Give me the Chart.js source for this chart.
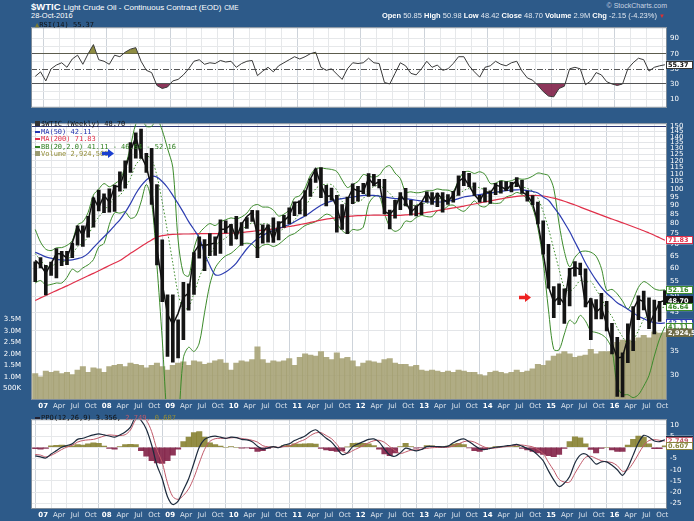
<!DOCTYPE html>
<html><head><meta charset="utf-8">
<script src="https://cdn.jsdelivr.net/npm/chart.js@4.4.1/dist/chart.umd.min.js"></script>
<style>
body{margin:0;background:#2d5a89;width:694px;height:521px;overflow:hidden;position:relative;font-family:"Liberation Sans",Arial,sans-serif;}
canvas{position:absolute;left:0;z-index:1;}
.t{position:absolute;white-space:nowrap;color:#fff;z-index:10;line-height:1;}
.lg{position:absolute;white-space:nowrap;z-index:10;font-family:"DejaVu Sans Mono",monospace;font-size:7px;line-height:7.6px;left:35px;}
.dash{display:inline-block;width:5px;height:2px;vertical-align:middle;margin-right:1px;}
.arrow{position:absolute;z-index:11;clip-path:polygon(0 30%,50% 30%,50% 0,100% 50%,50% 100%,50% 70%,0 70%);}
</style></head><body>
<div class="t" style="left:31px;top:2px;font-size:9.5px;"><b>$WTIC</b> <span style="font-size:8px">Light Crude Oil - Continuous Contract (EOD)</span> <span style="font-size:6.5px">CME</span></div>
<div class="t" style="left:31px;top:12px;font-size:7.5px;">28-Oct-2016</div>
<div class="t" style="right:27px;top:2px;font-size:7px;color:#c9d4e2;">© StockCharts.com</div>
<div class="t" style="right:29px;top:12px;font-size:7.5px;color:#dfe6ef;"><b style="color:#fff">Open</b> 50.85 <b style="color:#fff">High</b> 50.98 <b style="color:#fff">Low</b> 48.42 <b style="color:#fff">Close</b> 48.70 <b style="color:#fff">Volume</b> 2.9M <b style="color:#fff">Chg</b> -2.15 (-4.23%) <span style="color:#e03030;font-size:6px">▼</span></div>

<div class="lg" style="top:22px;color:#111;"><span style="color:#7a7a30">▲</span>RSI(14) 55.37</div>
<div class="lg" style="top:121px;color:#111;">
<div><span style="display:inline-block;width:5px;height:5px;background:#333;margin-right:1px"></span>$WTIC (Weekly) 48.70</div>
<div style="color:#2233b0"><span class="dash" style="background:#2233b0"></span>MA(50) 42.11</div>
<div style="color:#e0304a"><span class="dash" style="background:#e0304a"></span>MA(200) 71.83</div>
<div style="color:#2f8020"><span class="dash" style="background:#2f8020"></span>BB(20,2.0) 41.11 - 46.64 - 52.16</div>
<div style="color:#948e38"><span style="display:inline-block;width:5px;height:5px;background:#9a9a70;margin-right:1px"></span>Volume 2,924,569</div>
</div>
<div class="lg" style="top:415px;color:#111;"><span class="dash" style="background:#223"></span>PPO(12,26,9) 3.356, <span style="color:#c05a6a">2.749,</span> <span style="color:#948e38">0.607</span></div>
<div class="arrow" style="left:102px;top:149px;width:12px;height:9px;background:#1a3fd0;"></div>
<div class="arrow" style="left:519px;top:293px;width:12px;height:9px;background:#ee2222;"></div>

<canvas id="rsi" width="694" height="95" style="top:20px"></canvas>
<canvas id="main" width="694" height="296" style="top:116px"></canvas>
<canvas id="ppo" width="694" height="109" style="top:412px"></canvas>
<script>
// ---- monthly data, Nov 2006 .. Oct 2016 (120 months) ----
const closeP = [63.1,61.1,
58.1,61.8,65.9,65.7,64.0,70.7,78.2,74.0,81.7,94.5,88.7,96.0,
91.8,101.8,101.6,113.5,127.4,140.0,124.1,115.5,100.6,67.8,54.4,44.6,
41.7,44.8,49.7,51.1,66.3,69.9,69.5,70.0,70.6,77.0,77.3,79.4,
72.9,79.7,83.8,86.2,74.0,75.6,79.0,71.9,80.0,81.4,84.1,91.4,
92.2,97.0,106.7,113.9,102.7,95.4,95.7,88.8,79.2,93.2,100.4,98.8,
98.5,107.1,103.0,104.9,86.5,85.0,88.1,96.5,92.2,86.2,88.9,91.8,
97.5,92.1,97.2,93.5,92.0,96.6,105.0,107.7,102.3,96.4,92.7,98.4,
97.5,102.6,101.6,99.7,102.7,105.4,98.2,96.0,91.2,80.5,66.2,53.3,
48.2,49.8,47.6,59.6,60.3,59.5,47.1,49.2,45.1,46.6,41.7,37.0,
33.6,33.8,38.3,45.9,49.1,48.3,41.6,44.7,48.2,48.7];
const highP = [62.5,64.2,
61.1,62.4,68.1,66.9,66.9,70.5,78.8,78.8,83.9,94.5,99.3,97.0,
100.1,102.6,111.8,119.9,135.1,143.7,147.3,126.0,130.0,103.0,72.0,50.5,
50.5,43.0,54.7,54.2,66.3,73.4,72.2,75.0,73.4,82.0,81.5,79.6,
83.9,80.5,83.2,87.1,87.0,79.4,79.3,83.0,81.0,84.4,88.6,92.0,
92.6,99.0,106.9,113.9,114.8,102.4,100.6,96.0,90.5,95.0,103.4,101.8,
103.7,110.5,110.0,106.4,106.4,87.3,92.9,97.8,100.4,93.0,89.9,91.5,
98.2,97.8,97.4,97.8,96.5,98.6,108.9,112.2,110.7,104.1,96.0,100.8,
98.9,103.8,105.2,104.9,104.4,107.7,105.8,98.7,95.9,91.9,81.4,70.0,
53.3,54.2,52.5,59.9,62.6,62.0,59.7,49.3,49.0,51.0,48.4,42.0,
38.4,34.7,41.9,46.8,50.2,51.7,49.5,48.8,48.4,51.9];
const lowP = [55.0,60.1,
50.5,57.2,56.3,61.0,61.4,64.2,69.6,69.0,73.3,78.2,86.8,85.9,
86.1,86.6,98.6,100.5,111.3,122.0,121.9,111.3,90.5,61.3,48.3,33.9,
32.7,33.6,37.8,45.7,50.6,64.0,59.0,65.0,65.1,66.0,75.3,69.5,
72.4,69.5,77.5,81.1,64.2,70.5,71.0,70.8,72.0,78.0,80.0,84.2,
85.1,84.1,95.4,104.4,94.6,89.6,93.0,75.7,77.1,74.9,91.0,92.5,
97.0,95.4,102.1,100.7,85.2,77.3,82.8,87.5,89.7,84.5,84.1,84.7,
91.8,90.5,89.3,86.1,90.5,91.8,96.0,102.2,101.5,95.9,91.8,92.0,
91.2,96.4,97.4,98.9,98.2,101.6,97.2,92.5,90.4,79.8,65.7,52.7,
43.6,47.4,42.0,47.0,57.0,57.5,46.7,37.8,43.2,43.2,40.0,34.5,
26.2,26.1,32.6,35.2,43.0,45.8,40.6,39.2,42.5,47.4];
const volumeM = [1.15,1.0,
1.25,1.2,1.25,1.15,1.2,1.1,1.3,1.45,1.2,1.4,1.35,1.2,
1.45,1.5,1.55,1.45,1.6,1.55,1.5,1.4,1.5,1.6,1.45,1.3,
1.5,1.6,1.65,1.5,1.7,1.65,1.55,1.6,1.7,1.75,1.6,1.3,
1.6,1.7,1.65,1.75,2.3,1.75,1.6,1.7,1.65,1.7,1.8,1.5,
1.85,2.0,1.95,1.9,2.1,1.85,1.75,2.05,1.8,1.85,1.7,1.45,
1.6,1.7,1.65,1.6,1.75,1.8,1.6,1.55,1.55,1.45,1.5,1.3,
1.25,1.3,1.25,1.2,1.25,1.2,1.3,1.25,1.2,1.2,1.1,1.05,
1.2,1.25,1.2,1.15,1.2,1.3,1.2,1.25,1.35,1.55,1.5,1.7,
1.9,2.0,2.1,2.0,1.85,1.9,1.95,2.2,2.0,2.1,2.1,2.1,
2.5,2.6,2.6,2.55,2.7,2.8,2.7,2.95,2.9,2.92];
const ma50 = [66.5,65.5,
64.5,64,63.5,63.3,63.2,63.3,63.8,64.5,66,68.5,71,73.5,
76,79,82,86,91,97,102,106,108.5,108,105,101,
96,91,86,81,77,73,66,61,57.5,57.5,58.5,60,
62,65,68,70.5,72.5,74,75.5,76.5,77.5,78.5,79.5,81,
82.5,84,86,88,90,91.5,92.5,93.5,94,94.5,95,95.5,
96,96,96,95.5,95,94.5,94,94,94,93.5,93,92.5,
92,92,92,92,92.5,93,94,95,95.5,96,96.5,97,
97.5,98,98.5,99,99.3,99.5,99.5,99,98.5,97.5,95,93,
89,85,80.5,76,71,66.5,62,58.5,55.5,53,51,49.5,
48,47,46,45,44,43.3,42.6,42.2,42,42.11];
const ma200 = [48.7,49.5,
50.3,51.1,51.9,52.7,53.5,54.4,55.3,56.2,57.1,58.0,59.0,60.0,
61.0,62.0,63.0,64.5,66.0,67.5,69.0,70.5,72.0,73.3,74.0,74.4,
74.6,74.7,74.8,74.8,74.9,75.0,75.0,75.0,75.0,75.0,75.1,75.2,
75.3,75.5,75.8,76.1,76.4,76.7,77.0,77.3,77.7,78.1,78.5,79.0,
79.5,80.0,80.6,81.2,81.8,82.3,82.7,83.1,83.5,83.8,84.0,84.2,
84.3,84.4,84.5,84.5,84.4,84.3,84.3,84.4,84.6,84.9,85.2,85.6,
86.0,86.5,87.0,87.5,88.0,88.5,89.0,89.6,90.2,90.8,91.4,92.0,
92.6,93.2,93.8,94.4,94.9,95.4,95.7,95.9,96.0,95.9,95.6,95.0,
94.3,93.4,92.4,91.3,90.2,89.0,87.8,86.7,85.6,84.5,83.4,82.4,
81.4,80.4,79.4,78.4,77.4,76.4,75.3,74.2,73.0,71.83];
const bbUpper = [77,71,
67.8,67.2,68.4,68.5,69.5,71.6,79.3,80.9,86,96.2,100,103.6,
101.5,103.4,106.4,115.5,131.6,152,158,150,150,157,146,130,
115,72,58,57,68,75,78,80,79,81,82,83,
82.5,83.5,85.6,89.4,90.5,89,89,87.3,84,85,87.5,94.4,
95.8,100.6,109.3,114,114.5,114,113.5,112,106,101,103,105,
109.8,108.6,108,109.3,114.4,116.3,110.9,107,98.1,98.2,97.6,97.9,
98.9,98.9,100.1,99.4,99.3,98.5,105.9,111.4,112.1,110.6,111.8,109.9,
103.7,103.9,105.6,105,105.5,107,106.5,107,108.7,110.9,110.2,109,
100.3,80,66.8,60.5,64.3,66.6,67,66.5,64.8,59.9,52,52.3,
50.8,48.5,46,49,53,55,54,52.5,52,52.16];
const bbMid = [65.9,63.2,
60.8,60.6,62,62.5,63.1,65.6,68.9,70.5,73.7,79.8,83.4,87,
90.5,94.6,96,100.9,107.2,116.9,121.3,124,121,109,92,76,
62,51,46,46.6,51,56.4,61.3,65.3,69.2,71.4,72.9,74.9,
75.4,77.3,78.6,80.4,79.3,79.9,79.7,77.3,76.1,77.6,79.3,81.8,
85.8,89.2,94.3,100.2,102.5,103.1,102.9,99.3,92.4,90.5,91.5,92.1,
94,99.6,101.6,102.5,100,97.3,93.5,92.2,89.7,89.6,90.4,91.1,
91.3,91.3,93.5,94.4,94.5,94.3,96.9,99,100.7,101.6,100.8,99.5,
97.5,97.5,98.6,100,100.8,102.4,101.5,100.4,98.7,94.3,86.4,77.4,
67.9,59.6,53,51.7,53.1,55.4,54.8,55.1,52.2,49.5,45.9,43.9,
40.8,38.5,36.9,37.7,40.1,43.1,44.6,45.9,46.4,46.64];
const bbLower = [54.5,55.4,
53.8,54,54.5,54.5,56.5,59.6,58.5,60.1,61.3,63.4,68.8,70.4,
79.5,85.8,85.6,86.3,82.8,84,92,103,92,61,38,22,
18,22,33.6,36,35,37,45,54,60,63,65,66,
68,70,70.5,70,68,69.5,70,69,70,72,74,75,
77,79,80,81,83,85,84,80,76.5,75,77,76.7,
78.2,90.6,95.2,95.7,85.6,78.3,76.1,77.4,81.3,81,83.2,84.3,
83.7,83.7,86.9,87,89.7,90.1,87.9,86.6,89.3,92.6,89.8,89.1,
91.3,91.1,91.6,95,96,97.8,96.5,93.8,88.7,77.7,62.6,45.8,
35.5,35.4,39.2,42.9,41.9,44.2,42.6,40,39.6,39.1,38,35.5,
28,26.5,26.5,26,26.5,28,30,34,38,41.11];
const rsi14 = [40,46,
34,50,55,58,52,63,68,56,70,82,62,60,
56,68,66,72,76,78,60,48,45,28,24,26,
34,36,42,50,60,62,56,58,57,61,59,60,
52,57,60,61,41,47,52,46,54,58,62,66,
63,66,70,72,52,48,50,43,36,50,58,57,
58,64,58,57,32,30,44,58,54,44,42,50,
60,52,55,48,50,57,66,66,54,46,39,52,
54,60,56,54,58,60,47,38,35,28,20,14,
13,24,27,50,52,50,29,34,45,42,33,30,
28,30,50,58,64,62,47,52,54,55.37];
const ppoLine = [-3.8,-4.3,
-4.8,-3.0,-1.5,0.0,0.8,1.5,3.5,4.0,4.8,5.5,6.0,5.5,
5.0,4.5,5.5,6.8,9.0,13.5,12.0,8.0,1.0,-8.0,-14.0,-22.0,
-25.5,-24.0,-19.0,-14.0,-7.0,0.0,3.5,4.6,5.0,4.5,4.0,4.5,
4.3,3.5,3.3,2.5,0.5,-0.8,-0.3,0.3,-0.2,1.0,1.5,3.0,
4.0,5.0,6.8,7.8,6.0,4.0,2.3,-0.5,-3.2,-2.5,0.3,1.5,
2.5,3.5,3.7,2.3,-0.8,-3.5,-4.0,-2.5,-0.4,-1.0,-1.6,-1.0,
0.3,0.4,0.3,0.2,0.5,2.0,3.2,3.7,2.5,0.8,-0.7,-1.0,
-0.5,0.0,0.3,0.6,0.9,1.3,0.5,-0.6,-1.6,-3.5,-6.0,-10.5,
-14.5,-17.5,-16.0,-13.0,-7.0,-3.5,-3.0,-5.0,-7.5,-6.5,-6.5,-8.0,
-10.0,-12.5,-9.0,-3.5,2.0,5.3,4.5,2.8,2.5,3.356];
const ppoSignal = [-3.2,-3.5,
-4.3,-3.6,-2.4,-1.0,0.1,0.9,2.3,3.0,3.3,3.5,4.2,5.0,
5.5,5.3,5.2,5.6,7.7,12.3,13.5,12.0,7.0,-1.0,-6.8,-16.0,
-22.0,-23.2,-21.5,-18.5,-13.5,-7.0,-1.0,2.6,3.8,4.0,4.0,4.2,
4.3,3.9,3.6,3.1,2.3,0.7,0.2,0.1,0.0,0.3,0.6,1.5,
2.6,3.5,5.2,6.4,6.5,5.2,3.8,1.3,-1.6,-2.7,-1.5,-0.4,
0.8,2.0,2.9,3.1,2.2,0.3,-1.5,-2.8,-2.1,-1.3,-1.2,-0.8,
-0.5,-0.2,-0.1,-0.1,0.0,0.6,1.5,2.5,2.8,2.3,1.1,0.0,
-0.5,-0.3,0.0,0.3,0.6,0.9,1.0,0.6,0.2,-1.0,-2.8,-6.7,
-10.3,-14.3,-15.5,-15.5,-11.6,-7.7,-4.5,-4.0,-5.0,-6.0,-6.5,-6.8,
-8.2,-10.7,-10.0,-7.0,-3.0,0.8,3.0,3.4,3.1,2.749];
const ppoHist = [-0.6,-0.8,
-0.5,0.6,0.9,1.0,0.7,0.6,1.2,1.0,1.5,2.0,1.8,0.5,
-0.5,-0.8,0.3,1.2,1.3,1.2,-1.5,-4.0,-6.0,-7.0,-7.2,-6.0,
-3.5,-0.8,2.5,4.5,6.5,7.0,4.5,2.0,1.2,0.5,0.0,0.3,
0.0,-0.4,-0.3,-0.6,-1.8,-1.5,-0.5,0.2,-0.2,0.7,0.9,1.5,
1.4,1.5,1.6,1.4,-0.5,-1.2,-1.5,-1.8,-1.6,0.2,1.8,1.9,
1.7,1.5,0.8,-0.8,-3.0,-3.8,-2.5,0.3,1.7,0.3,-0.4,-0.2,
0.8,0.6,0.4,0.3,0.5,1.4,1.7,1.2,-0.3,-1.5,-1.8,-1.0,
0.0,0.3,0.3,0.3,0.3,0.4,-0.5,-1.2,-1.8,-2.5,-3.2,-3.8,
-4.2,-3.2,-0.5,2.5,4.6,4.2,1.5,-1.0,-2.5,-0.5,0.0,-1.2,
-1.8,-1.8,1.0,3.5,5.0,4.5,1.5,-0.6,-0.6,0.607];

// ---- axis ticks / labels ----
const priceTicks = [30,35,40,45,50,55,60,65,70,75,80,85,90,95,100,105,110,115,120,125,130,135,140,145,150];
const volTicks = [0.5,1.0,1.5,2.0,2.5,3.0,3.5];
const volTickLabels = ['500K','1.0M','1.5M','2.0M','2.5M','3.0M','3.5M'];
const rsiTicks = [10,20,30,40,50,60,70,80,90];
const rsiTickLabels = {10:'10',30:'30',50:'50',70:'70',90:'90'};
const ppoTicks = [10,5,0,-5,-10,-15,-20,-25];
const quarterNames = ['Apr','Jul','Oct'];
const firstYear = 2007;
const START_MONTH = -2;          // Nov 2006, months counted from Jan 2007
const X_MIN = -2.3, X_MAX = 117.9;

const quarterTicks = [];
for (let t = 0; t <= 117; t += 3) quarterTicks.push(t);
const xOf = i => START_MONTH + i + 0.5;
const pts = arr => arr.map((v, i) => ({x: xOf(i), y: v}));

const FONT = 'DejaVu Sans';
function xScale(showLabels){
  return {
    type:'linear', min:X_MIN, max:X_MAX, offset:false,
    afterBuildTicks: s => { s.ticks = quarterTicks.map(v => ({value:v})); },
    afterFit: s => { s.height = showLabels ? 12 : 0; },
    border:{display:false},
    grid:{drawTicks:false, lineWidth:1,
      color: c => (c.tick && c.tick.value % 12 === 0) ? '#cdd3da' : '#e6e8ea'},
    ticks:{display:showLabels, autoSkip:false, maxRotation:0, minRotation:0, padding:2,
      color: c => (c.tick && c.tick.value % 12 === 0) ? '#ffffff' : '#dbe3ec',
      font: c => ({family:FONT, size:7, weight:(c.tick && c.tick.value % 12 === 0) ? 'bold' : 'normal'}),
      callback: v => v % 12 === 0 ? String((firstYear + v/12) % 100).padStart(2,'0') : quarterNames[(v % 12)/3 - 1]}
  };
}
function rightAxis(extra){
  return Object.assign({
    position:'right',
    afterFit: s => { s.width = 27; },
    border:{display:false},
    ticks:{color:'#ffffff', font:{family:FONT, size:7}, padding:3, autoSkip:false},
  }, extra);
}

const panelPlugin = {
  id:'panel',
  beforeDraw(chart){
    const {ctx, chartArea:a} = chart;
    ctx.save(); ctx.fillStyle = '#ffffff';
    ctx.fillRect(a.left, a.top, a.right - a.left, a.bottom - a.top); ctx.restore();
  },
  beforeDatasetsDraw(chart, args, opts){
    const {ctx, chartArea:a} = chart;
    (opts.refLines || []).forEach(r => {
      const y = Math.round(chart.scales[r.axis].getPixelForValue(r.v)) + 0.5;
      ctx.save(); ctx.strokeStyle = r.color; ctx.lineWidth = r.w || 1;
      if (r.dash) ctx.setLineDash(r.dash);
      ctx.beginPath(); ctx.moveTo(a.left, y); ctx.lineTo(a.right, y); ctx.stroke(); ctx.restore();
    });
  },
  afterDraw(chart, args, opts){
    const {ctx, chartArea:a} = chart;
    ctx.save(); ctx.strokeStyle = '#7f8c99'; ctx.lineWidth = 1;
    ctx.strokeRect(a.left + 0.5, a.top + 0.5, a.right - a.left - 1, a.bottom - a.top - 1);
    (opts.boxes || []).forEach(b => {
      const y = chart.scales[b.axis].getPixelForValue(b.v);
      const h = 8, x = a.right - 1, w = chart.width - x - 1;
      ctx.fillStyle = b.fill; ctx.fillRect(x, y - h/2, w, h);
      ctx.strokeStyle = b.border; ctx.lineWidth = 1; ctx.strokeRect(x + 0.5, Math.round(y - h/2) + 0.5, w - 1, h - 1);
      ctx.fillStyle = b.color; ctx.font = 'bold 6.5px ' + FONT; ctx.textBaseline = 'middle';
      ctx.fillText(b.text, x + 2, y + 0.5);
    });
    ctx.restore();
  }
};

const common = {
  responsive:false, animation:false, events:[],
  layout:{autoPadding:false, padding:0},
  plugins:{legend:{display:false}, tooltip:{enabled:false}},
  elements:{point:{radius:0}}
};

// ---- RSI ----
new Chart(document.getElementById('rsi'), {
  type:'line',
  data:{datasets:[
    {data:pts(rsi14), borderColor:'#3a3a3a', borderWidth:1, pointRadius:0,
     fill:{target:{value:70}, above:'rgba(130,128,45,0.9)', below:'rgba(0,0,0,0)'}, order:1},
    {data:pts(rsi14), borderWidth:0, borderColor:'rgba(0,0,0,0)', pointRadius:0,
     fill:{target:{value:30}, above:'rgba(0,0,0,0)', below:'rgba(128,32,72,0.9)'}, order:2}
  ]},
  options:Object.assign({}, common, {
    layout:{autoPadding:false, padding:{left:31}},
    scales:{
      x: xScale(false),
      y: rightAxis({min:-1.5, max:105,
        afterBuildTicks: s => { s.ticks = rsiTicks.map(v => ({value:v})); },
        grid:{drawTicks:false, color: c => (c.tick && (c.tick.value === 70 || c.tick.value === 30)) ? '#555555' : (c.tick && c.tick.value === 50 ? 'rgba(0,0,0,0)' : '#e6e8ea')},
        ticks:{color:'#ffffff', font:{family:FONT, size:7}, padding:3, autoSkip:false, callback: v => rsiTickLabels[v] || ''}})
    },
    plugins:{legend:{display:false}, tooltip:{enabled:false},
      panel:{refLines:[{axis:'y', v:50, color:'#555555', dash:[6,2,1,2]}],
             boxes:[{axis:'y', v:55.37, text:'55.37', fill:'#ffffff', border:'#333', color:'#111'}]}}
  }),
  plugins:[panelPlugin]
});

// ---- main price panel ----
new Chart(document.getElementById('main'), {
  type:'bar',
  data:{datasets:[
    {type:'bar', data:pts(volumeM), yAxisID:'yVol', backgroundColor:'rgba(162,158,110,0.85)',
     barThickness:5.4, grouped:false, order:10},
    {type:'line', data:pts(bbUpper), yAxisID:'yPrice', borderColor:'#3b8a2a', borderWidth:1, tension:0.3, order:5},
    {type:'line', data:pts(bbLower), yAxisID:'yPrice', borderColor:'#3b8a2a', borderWidth:1, tension:0.3, order:5},
    {type:'line', data:pts(bbMid), yAxisID:'yPrice', borderColor:'#3b8a2a', borderWidth:1, borderDash:[1.5,2], tension:0.3, order:5},
    {type:'line', data:pts(ma200), yAxisID:'yPrice', borderColor:'#e0304a', borderWidth:1.2, tension:0.3, order:4},
    {type:'line', data:pts(ma50), yAxisID:'yPrice', borderColor:'#2c3cb0', borderWidth:1.2, tension:0.3, order:3},
    {type:'bar', data:highP.map((h, i) => ({x:xOf(i), y:[lowP[i], h]})), yAxisID:'yPrice',
     backgroundColor:'#141414', barThickness:3, grouped:false, order:2},
    {type:'line', data:pts(closeP), yAxisID:'yPrice', borderColor:'#111111', borderWidth:1.5, order:1}
  ]},
  options:Object.assign({}, common, {
    scales:{
      x: xScale(true),
      yPrice: rightAxis({type:'logarithmic', min:25.6, max:153,
        afterBuildTicks: s => { s.ticks = priceTicks.map(v => ({value:v})); },
        grid:{drawTicks:false, color: c => (c.tick && c.tick.value === 150) ? '#2a3570' : '#e3e5e8'},
        ticks:{color:'#ffffff', font:{family:FONT, size:7}, padding:3, autoSkip:false, callback: v => String(v)}}),
      yVol:{type:'linear', position:'left', min:0, max:12,
        afterFit: s => { s.width = 31; },
        afterBuildTicks: s => { s.ticks = volTicks.map(v => ({value:v})); },
        border:{display:false}, grid:{display:false},
        ticks:{color:'#ffffff', font:{family:FONT, size:7}, padding:2, autoSkip:false,
          callback: v => volTickLabels[volTicks.indexOf(v)] || ''}}
    },
    plugins:{legend:{display:false}, tooltip:{enabled:false},
      panel:{boxes:[
        {axis:'yPrice', v:71.83, text:'71.83', fill:'#ffffff', border:'#e0304a', color:'#e0304a'},
        {axis:'yPrice', v:52.16, text:'52.16', fill:'#ffffff', border:'#3b8a2a', color:'#3b8a2a'},
        {axis:'yPrice', v:48.70, text:'48.70', fill:'#111111', border:'#111111', color:'#ffffff'},
        {axis:'yPrice', v:46.64, text:'46.64', fill:'#ffffff', border:'#3b8a2a', color:'#3b8a2a'},
        {axis:'yPrice', v:42.11, text:'42.11', fill:'#ffffff', border:'#2c3cb0', color:'#2c3cb0'},
        {axis:'yPrice', v:41.11, text:'41.11', fill:'#ffffff', border:'#3b8a2a', color:'#3b8a2a'},
        {axis:'yVol', v:2.924569, text:'2,924,569', fill:'#6d6a45', border:'#6d6a45', color:'#ffffff'}
      ]}}
  }),
  plugins:[panelPlugin]
});

// ---- PPO ----
new Chart(document.getElementById('ppo'), {
  type:'bar',
  data:{datasets:[
    {type:'bar', data:pts(ppoHist), backgroundColor: c => (c.raw && c.raw.y >= 0) ? 'rgba(135,130,50,0.9)' : 'rgba(130,32,70,0.9)',
     barThickness:5.4, grouped:false, order:3},
    {type:'line', data:pts(ppoSignal), borderColor:'#c05a6a', borderWidth:1, tension:0.3, order:2},
    {type:'line', data:pts(ppoLine), borderColor:'#1c2a3c', borderWidth:1.2, tension:0.3, order:1}
  ]},
  options:Object.assign({}, common, {
    layout:{autoPadding:false, padding:{left:31}},
    scales:{
      x: xScale(true),
      y: rightAxis({min:-27.5, max:12.5,
        afterBuildTicks: s => { s.ticks = ppoTicks.map(v => ({value:v})); },
        grid:{drawTicks:false, color:'#e6e8ea'},
        ticks:{color:'#ffffff', font:{family:FONT, size:7}, padding:3, autoSkip:false}})
    },
    plugins:{legend:{display:false}, tooltip:{enabled:false},
      panel:{boxes:[
        {axis:'y', v:3.356, text:'3.356', fill:'#ffffff', border:'#1c2a3c', color:'#1c2a3c'},
        {axis:'y', v:2.749, text:'2.749', fill:'#ffffff', border:'#c05a6a', color:'#c05a6a'},
        {axis:'y', v:0.607, text:'0.607', fill:'#ffffff', border:'#8a8540', color:'#8a8540'}
      ]}}
  }),
  plugins:[panelPlugin]
});
</script>
</body></html>
